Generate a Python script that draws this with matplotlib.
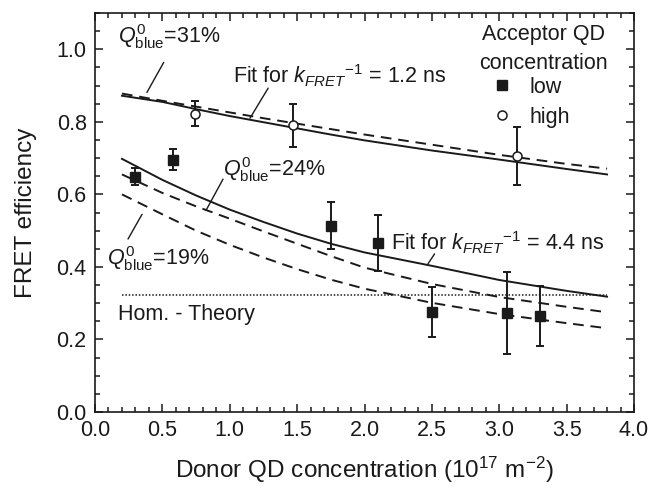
import matplotlib
matplotlib.use("Agg")
import matplotlib.pyplot as plt
import numpy as np

plt.rcParams['font.family'] = ['Liberation Sans', 'DejaVu Sans']
plt.rcParams['mathtext.fontset'] = 'custom'
plt.rcParams['mathtext.rm'] = 'Liberation Sans'
plt.rcParams['mathtext.it'] = 'Liberation Sans:italic'
plt.rcParams['mathtext.bf'] = 'Liberation Sans:bold'
plt.rcParams['mathtext.sf'] = 'Liberation Sans'

# ---- data ----
low_x = [0.30, 0.58, 1.75, 2.10, 2.50, 3.06, 3.30]
low_y = [0.649, 0.695, 0.514, 0.466, 0.276, 0.273, 0.265]
low_err = [0.024, 0.029, 0.064, 0.078, 0.070, 0.112, 0.083]

high_x = [0.74, 1.47, 3.13]
high_y = [0.823, 0.790, 0.707]
high_err = [0.034, 0.059, 0.080]

curve_x = [0.2, 0.5, 0.75, 1.0, 1.25, 1.5, 1.75, 2.0, 2.5, 3.0, 3.5, 3.8]
fit_12ns = [0.872, 0.855, 0.835, 0.816, 0.799, 0.782, 0.765, 0.749, 0.721, 0.696, 0.670, 0.655]
q31 = [0.878, 0.858, 0.842, 0.826, 0.810, 0.795, 0.780, 0.765, 0.737, 0.709, 0.684, 0.671]
fit_44ns = [0.698, 0.640, 0.597, 0.558, 0.524, 0.492, 0.464, 0.440, 0.403, 0.364, 0.334, 0.318]
q24 = [0.655, 0.604, 0.567, 0.533, 0.498, 0.464, 0.430, 0.398, 0.353, 0.317, 0.290, 0.275]
q19 = [0.600, 0.545, 0.500, 0.461, 0.426, 0.394, 0.365, 0.340, 0.301, 0.270, 0.245, 0.231]

hom_x = [0.2, 3.8]
hom_y = [0.322, 0.322]

legend_title = 'Acceptor QD\nconcentration'
x_label = r'Donor QD concentration (10$^{17}$ m$^{-2}$)'
y_label = 'FRET efficiency'

col = '#1a1a1a'

fig = plt.figure(figsize=(6.53, 4.88), dpi=100)
ax = fig.add_axes([0.1455, 0.1557, 0.8254, 0.8176])

dash = (0, (5.5, 3.5))
ax.plot(curve_x, fit_12ns, color=col, lw=1.4)
ax.plot(curve_x, q31, color=col, lw=1.4, linestyle=dash)
ax.plot(curve_x, fit_44ns, color=col, lw=1.4)
ax.plot(curve_x, q24, color=col, lw=1.4, linestyle=dash)
ax.plot(curve_x, q19, color=col, lw=1.4, linestyle=dash)
ax.plot(hom_x, hom_y, color=col, lw=1.1, linestyle=(0, (1, 1.2)))

ax.errorbar(low_x, low_y, yerr=low_err, fmt='none', ecolor=col,
            elinewidth=1.4, capsize=3, capthick=1.4, zorder=3)
ax.errorbar(high_x, high_y, yerr=high_err, fmt='none', ecolor=col,
            elinewidth=1.4, capsize=3, capthick=1.4, zorder=3)
ax.plot(low_x, low_y, 's', color=col, markersize=6.5, linestyle='none',
        zorder=4, label='low')
ax.plot(high_x, high_y, 'o', markerfacecolor='white', markeredgecolor=col,
        markeredgewidth=1.1, markersize=6.5, linestyle='none', zorder=4,
        label='high')

ax.set_xlim(0, 4.0)
ax.set_ylim(0, 1.1)
ax.set_xticks(np.arange(0, 4.01, 0.5))
ax.set_yticks(np.arange(0, 1.01, 0.2))
ax.set_xticks(np.arange(0, 4.01, 0.1), minor=True)
ax.set_yticks(np.arange(0, 1.101, 0.05), minor=True)
ax.xaxis.set_major_formatter(matplotlib.ticker.FormatStrFormatter('%.1f'))
ax.yaxis.set_major_formatter(matplotlib.ticker.FormatStrFormatter('%.1f'))
ax.tick_params(which='both', direction='in', top=True, right=True,
               color=col, width=1.1, labelsize=15.5, labelcolor=col)
ax.tick_params(which='major', length=6, pad=6)
ax.tick_params(which='minor', length=3.5)
for s in ax.spines.values():
    s.set_linewidth(1.2)
    s.set_color(col)

ax.set_xlabel(x_label, fontsize=17.5, color=col, labelpad=10)
ax.set_ylabel(y_label, fontsize=17.5, color=col, labelpad=14)

fs = 15.5
lk = dict(arrowstyle='-', color=col, lw=1.0, shrinkA=0, shrinkB=0)
ax.text(0.17, 1.035, r'$Q^{0}_{\mathrm{blue}}$=31%', fontsize=fs, color=col,
        va='center', ha='left')
ax.annotate('', xy=(0.385, 0.881), xytext=(0.51, 0.964), arrowprops=lk)
ax.text(1.024, 0.926, r'Fit for $k_{FRET}{}^{-1}$ = 1.2 ns', fontsize=fs,
        color=col, va='center', ha='left')
ax.annotate('', xy=(1.15, 0.81), xytext=(1.285, 0.893), arrowprops=lk)
ax.text(0.95, 0.669, r'$Q^{0}_{\mathrm{blue}}$=24%', fontsize=fs, color=col,
        va='center', ha='left')
ax.annotate('', xy=(0.824, 0.556), xytext=(0.95, 0.642), arrowprops=lk)
ax.text(0.09, 0.424, r'$Q^{0}_{\mathrm{blue}}$=19%', fontsize=fs, color=col,
        va='center', ha='left')
ax.annotate('', xy=(0.349, 0.545), xytext=(0.245, 0.477), arrowprops=lk)
ax.text(0.17, 0.27, 'Hom. - Theory', fontsize=fs, color=col,
        va='center', ha='left')
ax.text(2.20, 0.466, r'Fit for $k_{FRET}{}^{-1}$ = 4.4 ns', fontsize=fs,
        color=col, va='center', ha='left')
ax.annotate('', xy=(2.47, 0.408), xytext=(2.52, 0.436), arrowprops=lk)

# legend title as centered text, entries as a legend below it
ax.text(3.325, 1.001, legend_title, fontsize=fs, color=col, ha='center',
        va='center', multialignment='center', linespacing=1.45)
leg = ax.legend(loc='upper left', bbox_to_anchor=(0.736, 0.84),
                frameon=False, fontsize=fs, borderpad=0, borderaxespad=0,
                handlelength=1.0, handletextpad=0.75, labelspacing=0.42)
for t in leg.get_texts():
    t.set_color(col)

fig.savefig('out.png', dpi=100)
